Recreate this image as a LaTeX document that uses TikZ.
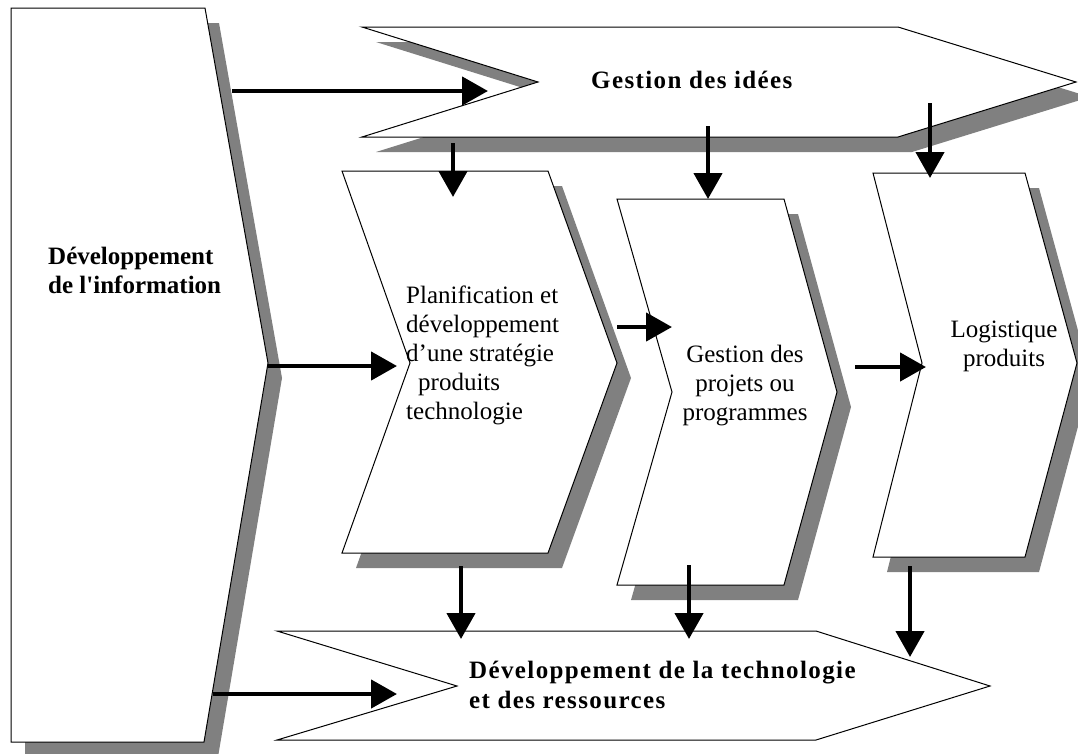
\documentclass[tikz,border=0pt]{standalone}
\usepackage{fontspec}
\setmainfont{Liberation Serif}[Ligatures=TeXOff]
\usetikzlibrary{arrows.meta}
\definecolor{shadowgray}{RGB}{128,128,128}
\begin{document}
\begin{tikzpicture}[x=1pt,y=-1pt,
  outline/.style={draw=black,line width=1pt,fill=white,line join=miter},
  dropshadow/.style={fill=shadowgray,shift={(14,15)}},
  flow/.style={line width=4.5pt,-{Triangle[length=26pt,width=28pt]}},
  lbl/.style={font=\fontsize{25}{29}\selectfont,inner sep=0pt},
  blbl/.style={font=\fontsize{25}{29}\selectfont\bfseries,inner sep=0pt,align=left},
  wide/.style={font=\fontsize{25}{30}\selectfont\bfseries\addfontfeature{LetterSpace=5.5}}]

\fill[white] (0,0) rectangle (1078,753);
\useasboundingbox (0,0) rectangle (1078,753);

% ---- shadows ----
\fill[dropshadow] (11,8) -- (205,8) -- (268,363) -- (204,742) -- (11,742) -- cycle;
\fill[dropshadow] (362,27) -- (898,27) -- (1076,82) -- (898,137) -- (362,137) -- (538,82) -- cycle;
\fill[dropshadow] (342,171) -- (548,171) -- (617,363) -- (548,553) -- (342,553) -- (410,363) -- cycle;
\fill[dropshadow] (617,199) -- (784,199) -- (837,392) -- (784,585) -- (617,585) -- (672,392) -- cycle;
\fill[dropshadow] (873,173) -- (1025,173) -- (1077,363) -- (1025,557) -- (873,557) -- (922,363) -- cycle;

% ---- shapes ----
\path[outline] (11,8) -- (205,8) -- (268,363) -- (204,742) -- (11,742) -- cycle;
\path[outline] (362,27) -- (898,27) -- (1076,82) -- (898,137) -- (362,137) -- (538,82) -- cycle;
\path[outline] (342,171) -- (548,171) -- (617,363) -- (548,553) -- (342,553) -- (410,363) -- cycle;
\path[outline] (617,199) -- (784,199) -- (837,392) -- (784,585) -- (617,585) -- (672,392) -- cycle;
\path[outline] (873,173) -- (1025,173) -- (1077,363) -- (1025,557) -- (873,557) -- (922,363) -- cycle;
\path[outline] (277,631) -- (816,631) -- (990,686) -- (816,740) -- (277,740) -- (457,686) -- cycle;

% ---- labels (multi-line nodes are anchored at their last baseline) ----
\node[blbl,anchor=base west] (info) at (48,293) {Développement\\de l'information};
\node[blbl,wide,inner sep=0pt,anchor=base west] (ideas) at (591,88) {Gestion des idées};
\node[lbl,align=left,anchor=base west] (plan) at (406,419)
  {Planification et\\développement\\d’une stratégie\\\hspace*{12pt}produits\\technologie};
\node[lbl,align=center,anchor=base] (proj) at (745,420) {Gestion des\\projets ou\\programmes};
\node[lbl,align=center,anchor=base] (logi) at (1004,366) {Logistique\\produits};
\node[blbl,wide,inner sep=0pt,align=left,anchor=base west] (tech) at (469,708)
  {Développement de la technologie\\et des ressources};

% ---- connector ends ----
\coordinate (infoA) at (232,91);   \coordinate (ideasIn) at (488,91);
\coordinate (infoB) at (268,366);  \coordinate (planIn) at (397,366);
\coordinate (infoC) at (213,694);  \coordinate (techIn) at (397,694);
\coordinate (ideasA) at (453,143); \coordinate (planTop) at (453,197);
\coordinate (ideasB) at (708,126); \coordinate (projTop) at (708,199);
\coordinate (ideasC) at (930,103); \coordinate (logiTop) at (930,178);
\coordinate (planOut) at (617,327); \coordinate (projIn) at (672,327);
\coordinate (projOut) at (855,367); \coordinate (logiIn) at (926,367);
\coordinate (planBot) at (461,566); \coordinate (techA) at (461,639);
\coordinate (projBot) at (689,565); \coordinate (techB) at (689,639);
\coordinate (logiBot) at (910,566); \coordinate (techC) at (910,657);

% ---- connectors ----
\draw[flow] (infoA) -- (ideasIn);
\draw[flow] (infoB) -- (planIn);
\draw[flow] (infoC) -- (techIn);
\draw[flow] (ideasA) -- (planTop);
\draw[flow] (ideasB) -- (projTop);
\draw[flow] (ideasC) -- (logiTop);
\draw[flow] (planOut) -- (projIn);
\draw[flow] (projOut) -- (logiIn);
\draw[flow] (planBot) -- (techA);
\draw[flow] (projBot) -- (techB);
\draw[flow] (logiBot) -- (techC);
\end{tikzpicture}
\end{document}
